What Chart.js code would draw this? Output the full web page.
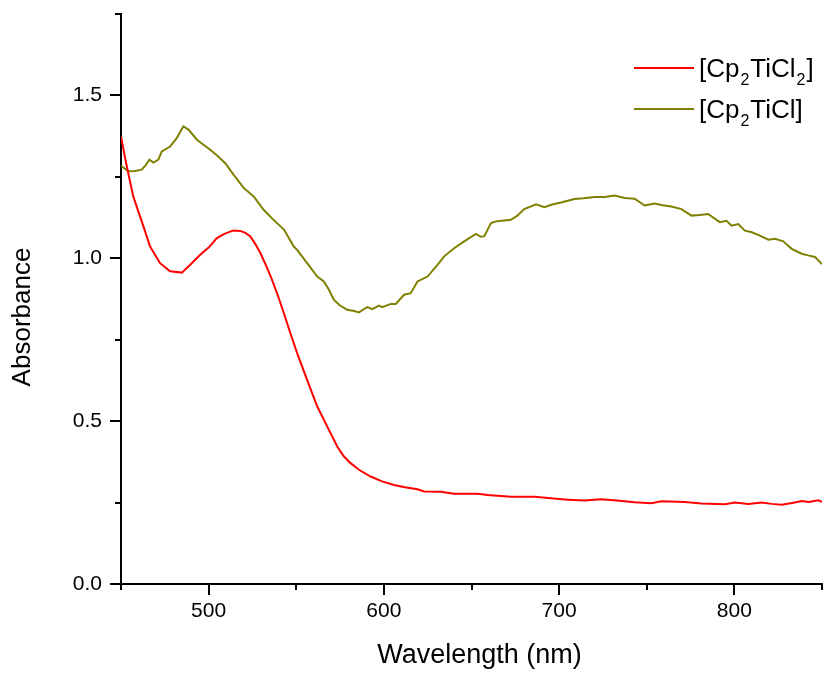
<!DOCTYPE html>
<html>
<head>
<meta charset="utf-8">
<title>UV-Vis spectra</title>
<script src="https://cdn.jsdelivr.net/npm/chart.js@4.4.1/dist/chart.umd.min.js"></script>
<style>
  html, body { margin: 0; padding: 0; background: #fff; }
  #wrap { width: 823px; height: 673px; }
</style>
</head>
<body>
<div id="wrap"><canvas id="spectra"></canvas></div>
<script>
// [Cp2TiCl2] spectrum
const ticl2Wavelength = [
  450, 453, 457, 462.8, 466.6, 472.3, 478, 484.7, 489.5, 495.2,
  500, 504.7, 509, 512.3, 514, 518, 521, 523.8, 526.5, 529.5,
  533, 536.2, 540, 542.9, 546.5, 550.5, 556.2, 562, 567.7, 573.4,
  577, 581, 586, 592.4, 599, 605.8, 612, 619.2, 623, 632.5,
  640, 653.5, 659.2, 672.5, 685.9, 695.4, 705, 714.5, 724, 733,
  743, 752.6, 758.3, 771.7, 781.2, 794.6, 800.3, 808, 815.6, 821.3,
  827, 833, 838.5, 842.3, 848, 850
];
const ticl2Absorbance = [
  1.374, 1.29, 1.19, 1.098, 1.036, 0.985, 0.960, 0.956, 0.980, 1.011,
  1.033, 1.062, 1.075, 1.082, 1.085, 1.084, 1.078, 1.067, 1.045, 1.016,
  0.975, 0.934, 0.878, 0.832, 0.772, 0.709, 0.627, 0.545, 0.483, 0.422,
  0.393, 0.371, 0.350, 0.330, 0.315, 0.304, 0.297, 0.291, 0.284, 0.283,
  0.277, 0.277, 0.273, 0.268, 0.268, 0.263, 0.259, 0.256, 0.260, 0.256,
  0.251, 0.248, 0.254, 0.252, 0.247, 0.245, 0.250, 0.246, 0.250, 0.246,
  0.243, 0.249, 0.255, 0.252, 0.257, 0.252
];

// [Cp2TiCl] spectrum
const ticlWavelength = [
  450, 454.2, 458, 461.8, 464, 466.2, 468.5, 471.3, 473.3, 478,
  481.8, 485.6, 488.5, 493.3, 500.9, 505, 509.5, 514.2, 520, 525.7,
  531.4, 537, 541, 543, 548.6, 550.5, 556.2, 562, 565.7, 568.5,
  571.5, 575, 579.1, 583, 585.8, 588, 590.6, 593.4, 597.2, 599.1,
  603.9, 606.8, 611.5, 615.3, 619.2, 624.9, 630.6, 634.4, 640.1, 645.8,
  652.5, 655.4, 657.3, 661.1, 664.5, 668.7, 672.5, 676, 680.1, 686.8,
  691.6, 696, 701.1, 708.8, 714, 720.2, 726, 731.6, 737.4, 743.1,
  748.8, 754.5, 759, 764, 769.8, 775.5, 780, 785, 791.7, 795.5,
  798.4, 802.2, 806, 810, 813.6, 819.4, 823.2, 827.9, 832.7, 838.4,
  842, 846, 850
];
const ticlAbsorbance = [
  1.284, 1.267, 1.268, 1.272, 1.285, 1.303, 1.294, 1.303, 1.328, 1.343,
  1.369, 1.405, 1.395, 1.364, 1.333, 1.315, 1.292, 1.257, 1.216, 1.190,
  1.149, 1.118, 1.098, 1.088, 1.036, 1.026, 0.985, 0.944, 0.929, 0.905,
  0.872, 0.855, 0.842, 0.838, 0.834, 0.842, 0.850, 0.844, 0.855, 0.850,
  0.860, 0.860, 0.888, 0.893, 0.929, 0.944, 0.980, 1.006, 1.031, 1.052,
  1.075, 1.066, 1.068, 1.108, 1.114, 1.116, 1.118, 1.130, 1.151, 1.166,
  1.157, 1.165, 1.171, 1.182, 1.184, 1.188, 1.188, 1.193, 1.185, 1.183,
  1.162, 1.168, 1.163, 1.159, 1.151, 1.131, 1.133, 1.136, 1.111, 1.115,
  1.100, 1.105, 1.085, 1.080, 1.072, 1.057, 1.060, 1.052, 1.029, 1.014,
  1.009, 1.004, 0.982
];

// "_2" marks a subscript digit
const seriesNames = ['[Cp_2TiCl_2]', '[Cp_2TiCl]'];
const seriesColors = ['#ff0000', '#808000'];
const xTitle = 'Wavelength (nm)';
const yTitle = 'Absorbance';

const FONT = "'Liberation Sans', Arial, Helvetica, sans-serif";

const toPoints = (xs, ys) => xs.map((x, i) => ({ x: x, y: ys[i] }));

// tick marks: long ones where there is a label, short ones in between
const tickMarks = {
  id: 'tickMarks',
  afterDraw(chart) {
    const { ctx } = chart;
    const xs = chart.scales.x;
    const ys = chart.scales.y;
    ctx.save();
    ctx.strokeStyle = '#000';
    ctx.lineWidth = 2;
    ctx.beginPath();
    xs.ticks.forEach((t, i) => {
      const px = Math.round(xs.getPixelForTick(i));
      const len = t.label !== '' ? 11 : 6;
      ctx.moveTo(px, xs.top);
      ctx.lineTo(px, xs.top + len);
    });
    ys.ticks.forEach((t, i) => {
      const py = Math.round(ys.getPixelForTick(i));
      const len = t.label !== '' ? 11 : 6;
      ctx.moveTo(ys.right, py);
      ctx.lineTo(ys.right - len, py);
    });
    ctx.stroke();
    ctx.restore();
  }
};

// axis titles, placed a little off-centre like the original plot
const axisTitles = {
  id: 'axisTitles',
  afterDraw(chart) {
    const { ctx, chartArea } = chart;
    ctx.save();
    ctx.fillStyle = '#000';
    ctx.textAlign = 'center';
    ctx.textBaseline = 'middle';
    ctx.font = '27px ' + FONT;
    ctx.fillText(xTitle, (chartArea.left + chartArea.right) / 2 + 8, chartArea.bottom + 72);
    ctx.font = '26px ' + FONT;
    ctx.translate(23, (chartArea.top + chartArea.bottom) / 2 + 18);
    ctx.rotate(-Math.PI / 2);
    ctx.fillText(yTitle, 0, 0);
    ctx.restore();
  }
};

function drawRichText(ctx, text, x, y) {
  const parts = text.split(/_(\d)/);
  parts.forEach((p, i) => {
    if (!p) return;
    const sub = i % 2 === 1;
    ctx.font = (sub ? '16px ' : '26px ') + FONT;
    if (sub) x += 1;
    ctx.fillText(p, x, sub ? y + 8 : y);
    x += ctx.measureText(p).width + (sub ? 1 : 0);
  });
}

// legend with subscripts, top right of the plot
const subLegend = {
  id: 'subLegend',
  afterDraw(chart) {
    const { ctx, chartArea } = chart;
    ctx.save();
    ctx.textBaseline = 'alphabetic';
    ctx.fillStyle = '#000';
    chart.data.datasets.forEach((ds, i) => {
      const y = chartArea.top + 54 + i * 41;
      ctx.strokeStyle = ds.borderColor;
      ctx.lineWidth = 2;
      ctx.beginPath();
      ctx.moveTo(chartArea.right - 188, y);
      ctx.lineTo(chartArea.right - 128, y);
      ctx.stroke();
      drawRichText(ctx, seriesNames[i], chartArea.right - 123, y + 9);
    });
    ctx.restore();
  }
};

const ctx = document.getElementById('spectra').getContext('2d');

new Chart(ctx, {
  type: 'line',
  data: {
    datasets: [
      {
        label: seriesNames[0],
        data: toPoints(ticl2Wavelength, ticl2Absorbance),
        borderColor: seriesColors[0],
        borderWidth: 2,
        pointRadius: 0,
        tension: 0,
        fill: false
      },
      {
        label: seriesNames[1],
        data: toPoints(ticlWavelength, ticlAbsorbance),
        borderColor: seriesColors[1],
        borderWidth: 2,
        pointRadius: 0,
        tension: 0,
        fill: false
      }
    ]
  },
  options: {
    responsive: true,
    maintainAspectRatio: false,
    animation: false,
    devicePixelRatio: 1,
    layout: { padding: { left: 0, right: 1, top: 14, bottom: 0 } },
    plugins: {
      legend: { display: false },
      tooltip: { enabled: false }
    },
    scales: {
      x: {
        type: 'linear',
        min: 450,
        max: 850,
        afterFit: s => {
          s.height = 89;
          s.paddingLeft = 0;
          s.paddingRight = 0;
        },
        ticks: {
          stepSize: 50,
          autoSkip: false,
          maxRotation: 0,
          padding: 5,
          color: '#000',
          font: { family: FONT, size: 21 },
          callback: v => (v % 100 === 0 ? String(v) : '')
        },
        grid: { drawOnChartArea: false, drawTicks: true, tickLength: 10, tickColor: 'rgba(0,0,0,0)' },
        border: { color: '#000', width: 2 }
      },
      y: {
        min: 0,
        max: 1.75,
        afterFit: s => {
          s.width = 121;
          s.paddingTop = 0;
          s.paddingBottom = 0;
        },
        ticks: {
          stepSize: 0.25,
          autoSkip: false,
          padding: 9,
          color: '#000',
          font: { family: FONT, size: 21 },
          callback: v => (Math.abs(v * 2 - Math.round(v * 2)) < 1e-6 ? v.toFixed(1) : '')
        },
        grid: { drawOnChartArea: false, drawTicks: true, tickLength: 10, tickColor: 'rgba(0,0,0,0)' },
        border: { color: '#000', width: 2 }
      }
    }
  },
  plugins: [tickMarks, axisTitles, subLegend]
});
</script>
</body>
</html>
